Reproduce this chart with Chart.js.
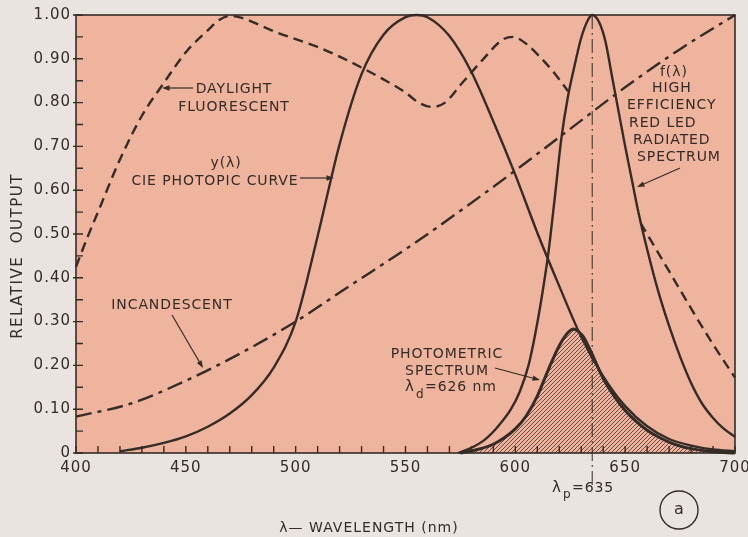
<!DOCTYPE html>
<html>
<head>
<meta charset="utf-8">
<script src="https://cdn.jsdelivr.net/npm/chart.js@4.4.1/dist/chart.umd.min.js"></script>
<style>
  html, body { margin: 0; padding: 0; background: #e9e4df; }
  canvas { display: block; }
</style>
</head>
<body>
<canvas id="chart" width="748" height="537"></canvas>
<script>
// values: wavelength (nm) -> relative output
const cieWl  = [420, 430, 440, 450, 460, 470, 480, 490, 500, 510, 520, 530, 540, 550, 555, 560, 570, 580, 590, 600, 610, 620, 630, 640, 650, 660, 670, 680, 690, 700];
const cieOut = [0.004, 0.012, 0.023, 0.038, 0.060, 0.090, 0.132, 0.195, 0.300, 0.495, 0.705, 0.865, 0.955, 0.995, 1.0, 0.995, 0.952, 0.870, 0.757, 0.635, 0.503, 0.381, 0.265, 0.175, 0.107, 0.061, 0.032, 0.017, 0.008, 0.004];

const ledWl  = [574, 580, 586, 592, 598, 602, 606, 609, 612, 615, 618, 621, 624, 627, 630, 633, 635, 638, 641, 644, 647, 650, 653, 656, 660, 665, 670, 675, 680, 685, 690, 695, 700];
const ledOut = [0, 0.012, 0.03, 0.06, 0.10, 0.14, 0.20, 0.27, 0.355, 0.455, 0.585, 0.72, 0.815, 0.885, 0.948, 0.988, 1.0, 0.985, 0.94, 0.86, 0.78, 0.70, 0.625, 0.55, 0.465, 0.37, 0.29, 0.22, 0.16, 0.113, 0.08, 0.055, 0.037];

const photWl  = [575, 580, 590, 600, 605, 610, 615, 620, 624, 626.5, 629, 631, 635, 640, 645, 650, 655, 660, 665, 670, 675, 680, 690, 700];
const photOut = [0, 0.005, 0.02, 0.055, 0.085, 0.13, 0.19, 0.245, 0.275, 0.283, 0.276, 0.265, 0.225, 0.17, 0.13, 0.097, 0.072, 0.052, 0.037, 0.025, 0.016, 0.01, 0.003, 0];

// null = hidden behind the LED peak
const dayWl  = [400, 405, 410, 420, 430, 440, 450, 460, 465, 470, 475, 480, 490, 500, 510, 520, 530, 540, 550, 556, 562, 568, 575, 585, 594, 599, 605, 612, 618, 624, 640, 657, 670, 680, 690, 700];
const dayOut = [0.425, 0.49, 0.55, 0.67, 0.77, 0.845, 0.915, 0.965, 0.988, 0.998, 0.994, 0.985, 0.963, 0.945, 0.927, 0.905, 0.88, 0.853, 0.823, 0.80, 0.79, 0.80, 0.84, 0.897, 0.943, 0.95, 0.934, 0.9, 0.866, 0.826, null, 0.525, 0.415, 0.33, 0.248, 0.172];

const incWl  = [400, 425, 450, 475, 500, 525, 550, 575, 600, 625, 650, 675, 700];
const incOut = [0.083, 0.113, 0.165, 0.228, 0.30, 0.383, 0.465, 0.553, 0.645, 0.74, 0.835, 0.922, 1.0];

const peakWl = 635;

const ink = "#352b27";
const paper = "#efb49d";
const font = "DejaVu Sans";

function pts(xs, ys) {
    return xs.map((x, i) => ({ x: x, y: ys[i] }));
}

// hatch for the photometric spectrum
function hatch() {
    const c = document.createElement("canvas");
    c.width = 4;
    c.height = 4;
    const g = c.getContext("2d");
    g.strokeStyle = "#4a3029";
    g.lineWidth = 0.8;
    g.beginPath();
    g.moveTo(0, 4);
    g.lineTo(4, 0);
    g.moveTo(-1, 1);
    g.lineTo(1, -1);
    g.moveTo(3, 5);
    g.lineTo(5, 3);
    g.stroke();
    return g.createPattern(c, "repeat");
}

function arrow(ctx, x1, y1, x2, y2) {
    const a = Math.atan2(y2 - y1, x2 - x1);
    ctx.beginPath();
    ctx.moveTo(x1, y1);
    ctx.lineTo(x2 - Math.cos(a) * 5, y2 - Math.sin(a) * 5);
    ctx.stroke();
    ctx.beginPath();
    ctx.moveTo(x2, y2);
    ctx.lineTo(x2 - Math.cos(a - 0.35) * 8, y2 - Math.sin(a - 0.35) * 8);
    ctx.lineTo(x2 - Math.cos(a + 0.35) * 8, y2 - Math.sin(a + 0.35) * 8);
    ctx.closePath();
    ctx.fill();
}

const labels = [
    ["DAYLIGHT", 234, 89, "center"],
    ["FLUORESCENT", 234, 107, "center"],
    ["y(\u03bb)", 226, 163, "center"],
    ["CIE PHOTOPIC CURVE", 215, 181, "center"],
    ["INCANDESCENT", 172, 305, "center"],
    ["f(\u03bb)", 660, 72, "left"],
    ["HIGH", 652, 88, "left"],
    ["EFFICIENCY", 627, 105, "left"],
    ["RED LED", 629, 123, "left"],
    ["RADIATED", 633, 140, "left"],
    ["SPECTRUM", 637, 157, "left"],
    ["PHOTOMETRIC", 447, 354, "center"],
    ["SPECTRUM", 447, 371, "center"]
];

const arrows = [
    [193, 88, 162, 88],
    [300, 178, 334, 178],
    [172, 315, 203, 368],
    [680, 168, 637, 187],
    [495, 368, 540, 380]
];

const decorations = {
    id: "decorations",
    beforeDraw(chart) {
        const { ctx, chartArea: a } = chart;
        ctx.save();
        ctx.fillStyle = paper;
        ctx.fillRect(a.left, a.top, a.right - a.left, a.bottom - a.top);
        ctx.restore();
        // wider lettering for the tick labels
        ctx.letterSpacing = "1px";
    },
    afterDraw(chart) {
        const { ctx, chartArea: a, scales } = chart;
        ctx.save();
        ctx.strokeStyle = ink;
        ctx.fillStyle = ink;

        // frame
        ctx.lineWidth = 1.6;
        ctx.strokeRect(a.left, a.top, a.right - a.left, a.bottom - a.top);

        // inward ticks
        ctx.lineWidth = 1.4;
        ctx.beginPath();
        scales.y.ticks.forEach(t => {
            const y = scales.y.getPixelForValue(t.value);
            const major = t.label !== "";
            ctx.moveTo(a.left - (major ? 3 : 0), y);
            ctx.lineTo(a.left + 7, y);
        });
        scales.x.ticks.forEach(t => {
            const x = scales.x.getPixelForValue(t.value);
            ctx.moveTo(x, a.bottom);
            ctx.lineTo(x, a.bottom - 7);
        });
        ctx.stroke();

        // lambda_p marker
        const xp = scales.x.getPixelForValue(peakWl);
        ctx.lineWidth = 1;
        ctx.setLineDash([14, 4, 2, 4]);
        ctx.beginPath();
        ctx.moveTo(xp, a.top);
        ctx.lineTo(xp, a.bottom + 32);
        ctx.stroke();
        ctx.setLineDash([]);

        // annotations
        ctx.letterSpacing = "0.9px";
        ctx.font = "14px '" + font + "'";
        ctx.textBaseline = "middle";
        labels.forEach(l => {
            ctx.textAlign = l[3];
            ctx.fillText(l[0], l[1], l[2]);
        });
        ctx.lineWidth = 1.2;
        arrows.forEach(r => arrow(ctx, r[0], r[1], r[2], r[3]));

        ctx.textAlign = "left";
        ctx.font = "15px '" + font + "'";
        ctx.fillText("\u03bb", 405, 387);
        ctx.fillText("\u03bb", 552, 488);
        ctx.font = "12px '" + font + "'";
        ctx.fillText("d", 416, 395);
        ctx.fillText("p", 563, 495);
        ctx.font = "14px '" + font + "'";
        ctx.fillText("=626 nm", 425, 387);
        ctx.fillText("=635", 572, 488);

        // panel mark
        ctx.lineWidth = 1.4;
        ctx.beginPath();
        ctx.arc(679, 510, 19, 0, Math.PI * 2);
        ctx.stroke();
        ctx.textAlign = "center";
        ctx.letterSpacing = "0px";
        ctx.font = "16px '" + font + "'";
        ctx.fillText("a", 679, 510);

        // axis titles
        ctx.letterSpacing = "1px";
        ctx.font = "14px '" + font + "'";
        ctx.fillText("\u03bb\u2014 WAVELENGTH (nm)", 369, 528);
        ctx.translate(18, 256);
        ctx.rotate(-Math.PI / 2);
        ctx.letterSpacing = "1.5px";
        ctx.font = "15px '" + font + "'";
        ctx.fillText("RELATIVE  OUTPUT", 0, 0);
        ctx.restore();
    }
};

const solid = { pointRadius: 0, borderColor: ink, borderWidth: 2.4, fill: false, cubicInterpolationMode: "monotone", clip: false };

const chart = new Chart(document.getElementById("chart"), {
    type: "line",
    data: {
        datasets: [
            Object.assign({}, solid, { label: "photometric", data: pts(photWl, photOut), borderWidth: 3, fill: "origin", backgroundColor: hatch() }),
            Object.assign({}, solid, { label: "cie", data: pts(cieWl, cieOut) }),
            Object.assign({}, solid, { label: "led", data: pts(ledWl, ledOut) }),
            Object.assign({}, solid, { label: "daylight", data: pts(dayWl, dayOut), borderDash: [10, 6], spanGaps: false }),
            Object.assign({}, solid, { label: "incandescent", data: pts(incWl, incOut), borderDash: [16, 6, 4, 6] })
        ]
    },
    options: {
        responsive: false,
        animation: false,
        layout: { padding: { top: 15, right: 13, left: 0, bottom: 0 } },
        plugins: { legend: { display: false }, tooltip: { enabled: false } },
        scales: {
            x: {
                type: "linear",
                min: 400,
                max: 700,
                grid: { display: false, drawTicks: false },
                border: { display: false },
                afterFit: s => { s.height = 84; s.paddingLeft = 0; s.paddingRight = 0; },
                ticks: {
                    stepSize: 10,
                    autoSkip: false,
                    maxRotation: 0,
                    padding: 6,
                    color: ink,
                    font: { family: font, size: 15 },
                    callback: v => (v % 50 === 0 ? String(v) : "")
                }
            },
            y: {
                min: 0,
                max: 1,
                grid: { display: false, drawTicks: false },
                border: { display: false },
                afterFit: s => { s.width = 76; s.paddingTop = 0; s.paddingBottom = 0; },
                ticks: {
                    stepSize: 0.05,
                    autoSkip: false,
                    padding: 5,
                    color: ink,
                    font: { family: font, size: 15 },
                    callback: v => {
                        const k = Math.round(v * 100);
                        if (k % 10 !== 0) return "";
                        return k === 0 ? "0" : v.toFixed(2);
                    }
                }
            }
        }
    },
    plugins: [decorations]
});
</script>
</body>
</html>
